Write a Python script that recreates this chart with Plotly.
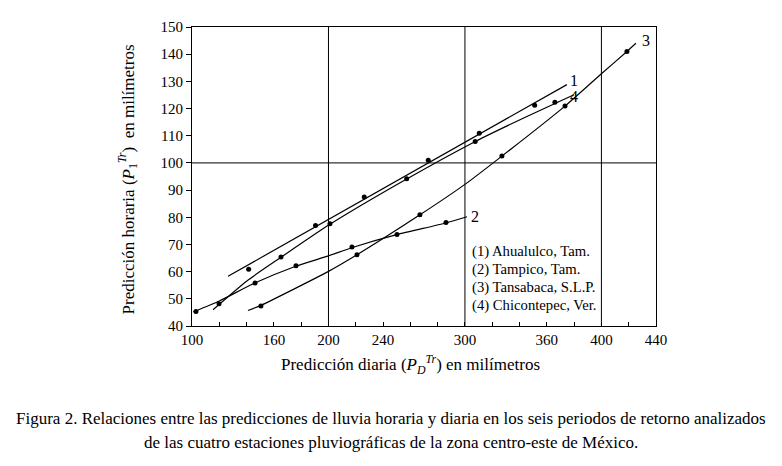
import plotly.graph_objects as go

# ---- data ----
# observed points (daily prediction, hourly prediction), six return periods per station
s1_x = [141.5, 190.5, 226.2, 273.1, 310.5, 351.1]
s1_y = [60.9, 77.0, 87.5, 101.0, 110.9, 121.2]
s2_x = [102.9, 146.2, 176.2, 217.2, 250.2, 286.1]
s2_y = [45.3, 55.8, 62.2, 69.1, 73.7, 78.1]
s3_x = [150.5, 220.9, 267.0, 327.1, 373.3, 418.7]
s3_y = [47.4, 66.2, 80.9, 102.5, 120.9, 141.0]
s4_x = [119.8, 165.2, 201.1, 257.3, 307.5, 365.9]
s4_y = [48.2, 65.4, 77.6, 94.2, 107.9, 122.3]

# fitted curves
c1_x = [126.4, 374.7]
c1_y = [58.3, 128.8]
c2_x = [101.0, 120.0, 146.0, 176.0, 200.0, 217.0, 250.0, 286.0, 301.5]
c2_y = [45.2, 49.2, 55.8, 62.0, 65.8, 68.8, 73.6, 77.9, 80.2]
c3_x = [141.0, 150.5, 200.0, 220.9, 267.0, 300.0, 327.1, 373.3, 400.0, 418.7, 425.3]
c3_y = [45.7, 47.6, 60.1, 66.2, 80.9, 92.1, 102.5, 120.9, 132.8, 141.0, 144.0]
c4_x = [115.4, 140.0, 165.0, 201.0, 257.0, 308.0, 345.0, 379.9]
c4_y = [46.0, 56.5, 65.2, 77.4, 94.0, 108.0, 117.0, 125.1]

curve_labels = ["1", "2", "3", "4"]
legend_lines = ["(1) Ahualulco, Tam.", "(2) Tampico, Tam.",
                "(3) Tansabaca, S.L.P.", "(4) Chicontepec, Ver."]

x_ticks = list(range(100, 441, 20))
x_labelled = [100, 160, 200, 240, 300, 360, 400, 440]
y_ticks = list(range(40, 151, 10))
grid_x = [200, 300, 400]
grid_y = [100]

FONT = "Liberation Serif"

fig = go.Figure()
curves = [(c1_x, c1_y), (c2_x, c2_y), (c3_x, c3_y), (c4_x, c4_y)]
points = [(s1_x, s1_y), (s2_x, s2_y), (s3_x, s3_y), (s4_x, s4_y)]
for cx, cy in curves:
    fig.add_trace(go.Scatter(x=cx, y=cy, mode="lines",
                             line=dict(color="black", width=1.2, shape="spline", smoothing=0.6),
                             showlegend=False, hoverinfo="skip"))
for px, py in points:
    fig.add_trace(go.Scatter(x=px, y=py, mode="markers",
                             marker=dict(color="black", size=5),
                             showlegend=False))

shapes = []
for gx in grid_x:
    shapes.append(dict(type="line", xref="x", yref="paper", x0=gx, x1=gx, y0=0, y1=1,
                       line=dict(color="black", width=1), layer="below"))
for gy in grid_y:
    shapes.append(dict(type="line", xref="paper", yref="y", x0=0, x1=1, y0=gy, y1=gy,
                       line=dict(color="black", width=1), layer="below"))

annotations = []
label_shift = {"1": (7, 4), "2": (8, 0), "3": (10, 3), "4": (0, -2)}
for lab, (cx, cy) in zip(curve_labels, curves):
    dx, dy = label_shift[lab]
    annotations.append(dict(x=cx[-1], y=cy[-1], xref="x", yref="y", text=lab,
                            showarrow=False, xanchor="center", yanchor="middle",
                            xshift=dx, yshift=dy, font=dict(family=FONT, size=16, color="black")))

# legend text block, one line per annotation
for i, line in enumerate(legend_lines):
    annotations.append(dict(x=303.5, y=67.3 - 6.6 * i, xref="x", yref="y",
                            xanchor="left", yanchor="middle", align="left",
                            showarrow=False, text=line,
                            font=dict(family=FONT, size=14.7, color="black")))

annotations.append(dict(x=-0.138, y=0.49, xref="paper", yref="paper", textangle=-90,
                        showarrow=False, xanchor="center", yanchor="middle",
                        text="Predicción horaria (<i>P</i><sub>1</sub><sup><i>Tr</i></sup>)  en milímetros",
                        font=dict(family=FONT, size=17, color="black")))
annotations.append(dict(x=0.47, y=-0.13, xref="paper", yref="paper",
                        showarrow=False, xanchor="center", yanchor="middle",
                        text="Predicción diaria (<i>P</i><sub><i>D</i></sub><sup><i>Tr</i></sup>) en milímetros",
                        font=dict(family=FONT, size=17, color="black")))
caption = ["Figura 2. Relaciones entre las predicciones de lluvia horaria y diaria en los seis periodos de retorno analizados",
           "de las cuatro estaciones pluviográficas de la zona centro-este de México."]
for i, line in enumerate(caption):
    annotations.append(dict(x=0.429, y=-0.309 - 0.082 * i, xref="paper", yref="paper",
                            showarrow=False, xanchor="center", yanchor="middle",
                            text=line, font=dict(family=FONT, size=17, color="black")))

# the page body adds an 8px offset, so the figure is drawn 8px smaller
fig.update_layout(
    width=774, height=458,
    margin=dict(l=184, r=126, t=11, b=140),
    paper_bgcolor="white", plot_bgcolor="white",
    shapes=shapes, annotations=annotations,
    font=dict(family=FONT, size=15, color="black"),
    xaxis=dict(range=[100, 440], tickvals=x_ticks,
               ticktext=[str(v) if v in x_labelled else "" for v in x_ticks],
               ticks="inside", ticklen=4, tickcolor="black",
               showgrid=False, zeroline=False, showline=True, linecolor="black",
               linewidth=1, mirror=True, tickfont=dict(family=FONT, size=15)),
    yaxis=dict(range=[40, 150], tickvals=y_ticks, ticks="outside", ticklen=5,
               tickcolor="black", showgrid=False, zeroline=False, showline=True,
               linecolor="black", linewidth=1, mirror=True,
               tickfont=dict(family=FONT, size=15)),
)

fig.write_html("out.html")
